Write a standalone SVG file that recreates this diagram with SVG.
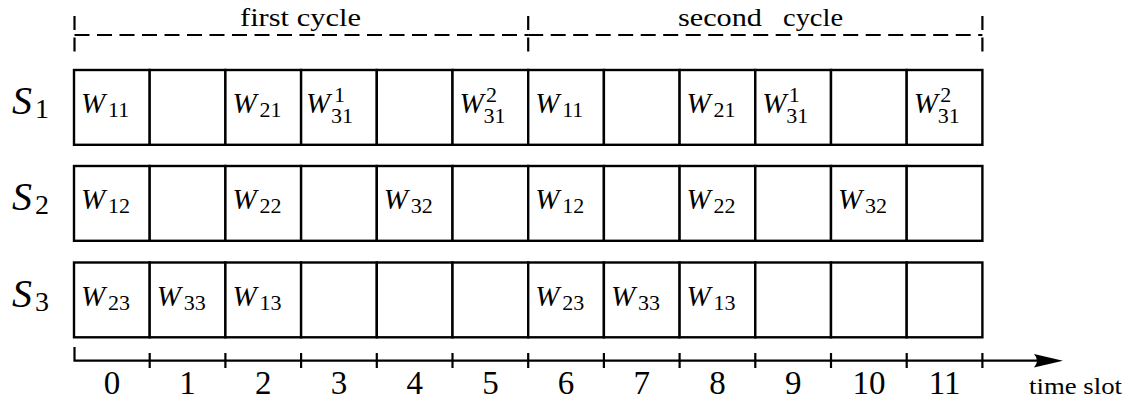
<svg xmlns="http://www.w3.org/2000/svg" width="1128" height="401" viewBox="0 0 1128 401" font-family="Liberation Serif, DejaVu Serif, serif">
<style>
.bg{fill:#ffffff}
.cell{fill:#ffffff;stroke:#000;stroke-width:2.4}
.dash{stroke:#000;stroke-width:2.2;fill:none;stroke-dasharray:15 7.5}
.vdash{stroke:#000;stroke-width:2.2;fill:none;stroke-dasharray:14 7.5}
.ax{stroke:#000;stroke-width:2.2;fill:none}
</style>
<rect class="bg" x="0" y="0" width="1128" height="401"/>

<g id="cycles" font-family="Liberation Serif, DejaVu Serif, serif" font-size="26" fill="#000">
  <line class="vdash" x1="74.5" y1="16" x2="74.5" y2="53"/>
  <line class="vdash" x1="528.2" y1="16" x2="528.2" y2="53"/>
  <line class="vdash" x1="982.4" y1="16" x2="982.4" y2="53"/>
  <line class="dash" x1="74.5" y1="35" x2="528.2" y2="35"/>
  <line class="dash" x1="528.2" y1="35" x2="982.4" y2="35"/>
  <text x="240" y="26" textLength="121" lengthAdjust="spacingAndGlyphs">first cycle</text>
  <text x="678" y="26" textLength="84" lengthAdjust="spacingAndGlyphs">second</text>
  <text x="783" y="26" textLength="60" lengthAdjust="spacingAndGlyphs">cycle</text>
</g>

<g id="row-labels" font-family="Liberation Serif, DejaVu Serif, serif" font-style="italic" font-size="40" fill="#000">
  <text x="12" y="114">S<tspan font-style="normal" font-size="28" x="35" y="118">1</tspan></text>
  <text x="12" y="210">S<tspan font-style="normal" font-size="28" x="35" y="214">2</tspan></text>
  <text x="12" y="306.5">S<tspan font-style="normal" font-size="28" x="35" y="310.5">3</tspan></text>
</g>

<g font-family="Liberation Serif, DejaVu Serif, serif" font-style="italic" font-size="29" fill="#000">
<g id="S1">
  <g id="S1-0"><rect class="cell" x="74" y="70" width="75.7" height="74.8"/><text x="81" y="113">W<tspan font-style="normal" font-size="22" x="108" y="117">11</tspan></text></g>
  <g id="S1-1"><rect class="cell" x="149.7" y="70" width="75.7" height="74.8"/></g>
  <g id="S1-2"><rect class="cell" x="225.4" y="70" width="75.7" height="74.8"/><text x="232.4" y="113">W<tspan font-style="normal" font-size="22" x="259.4" y="117">21</tspan></text></g>
  <g id="S1-3"><rect class="cell" x="301.1" y="70" width="75.7" height="74.8"/><text x="306.1" y="113">W<tspan font-style="normal" font-size="22" x="334.1" y="101.5">1</tspan></text><text x="331.1" y="123" font-style="normal" font-size="22">31</text></g>
  <g id="S1-4"><rect class="cell" x="376.8" y="70" width="75.7" height="74.8"/></g>
  <g id="S1-5"><rect class="cell" x="452.5" y="70" width="75.7" height="74.8"/><text x="459.5" y="113">W<tspan font-style="normal" font-size="22" x="486" y="101.5">2</tspan></text><text x="483.5" y="123" font-style="normal" font-size="22">31</text></g>
  <g id="S1-6"><rect class="cell" x="528.2" y="70" width="75.7" height="74.8"/><text x="535.2" y="113">W<tspan font-style="normal" font-size="22" x="562.2" y="117">11</tspan></text></g>
  <g id="S1-7"><rect class="cell" x="603.9" y="70" width="75.7" height="74.8"/></g>
  <g id="S1-8"><rect class="cell" x="679.6" y="70" width="75.7" height="74.8"/><text x="686.6" y="113">W<tspan font-style="normal" font-size="22" x="713.6" y="117">21</tspan></text></g>
  <g id="S1-9"><rect class="cell" x="755.3" y="70" width="75.7" height="74.8"/><text x="762.3" y="113">W<tspan font-style="normal" font-size="22" x="788.8" y="101.5">1</tspan></text><text x="786.3" y="123" font-style="normal" font-size="22">31</text></g>
  <g id="S1-10"><rect class="cell" x="831" y="70" width="75.7" height="74.8"/></g>
  <g id="S1-11"><rect class="cell" x="906.7" y="70" width="75.7" height="74.8"/><text x="913.7" y="113">W<tspan font-style="normal" font-size="22" x="940.2" y="101.5">2</tspan></text><text x="937.7" y="123" font-style="normal" font-size="22">31</text></g>
</g>

<g id="S2">
  <g id="S2-0"><rect class="cell" x="74" y="166" width="75.7" height="74.8"/><text x="81" y="209">W<tspan font-style="normal" font-size="22" x="108" y="213">12</tspan></text></g>
  <g id="S2-1"><rect class="cell" x="149.7" y="166" width="75.7" height="74.8"/></g>
  <g id="S2-2"><rect class="cell" x="225.4" y="166" width="75.7" height="74.8"/><text x="232.4" y="209">W<tspan font-style="normal" font-size="22" x="259.4" y="213">22</tspan></text></g>
  <g id="S2-3"><rect class="cell" x="301.1" y="166" width="75.7" height="74.8"/></g>
  <g id="S2-4"><rect class="cell" x="376.8" y="166" width="75.7" height="74.8"/><text x="383.8" y="209">W<tspan font-style="normal" font-size="22" x="410.8" y="213">32</tspan></text></g>
  <g id="S2-5"><rect class="cell" x="452.5" y="166" width="75.7" height="74.8"/></g>
  <g id="S2-6"><rect class="cell" x="528.2" y="166" width="75.7" height="74.8"/><text x="535.2" y="209">W<tspan font-style="normal" font-size="22" x="562.2" y="213">12</tspan></text></g>
  <g id="S2-7"><rect class="cell" x="603.9" y="166" width="75.7" height="74.8"/></g>
  <g id="S2-8"><rect class="cell" x="679.6" y="166" width="75.7" height="74.8"/><text x="686.6" y="209">W<tspan font-style="normal" font-size="22" x="713.6" y="213">22</tspan></text></g>
  <g id="S2-9"><rect class="cell" x="755.3" y="166" width="75.7" height="74.8"/></g>
  <g id="S2-10"><rect class="cell" x="831" y="166" width="75.7" height="74.8"/><text x="838" y="209">W<tspan font-style="normal" font-size="22" x="865" y="213">32</tspan></text></g>
  <g id="S2-11"><rect class="cell" x="906.7" y="166" width="75.7" height="74.8"/></g>
</g>

<g id="S3">
  <g id="S3-0"><rect class="cell" x="74" y="262.5" width="75.7" height="74.8"/><text x="81" y="305.5">W<tspan font-style="normal" font-size="22" x="108" y="309.5">23</tspan></text></g>
  <g id="S3-1"><rect class="cell" x="149.7" y="262.5" width="75.7" height="74.8"/><text x="156.7" y="305.5">W<tspan font-style="normal" font-size="22" x="183.7" y="309.5">33</tspan></text></g>
  <g id="S3-2"><rect class="cell" x="225.4" y="262.5" width="75.7" height="74.8"/><text x="232.4" y="305.5">W<tspan font-style="normal" font-size="22" x="259.4" y="309.5">13</tspan></text></g>
  <g id="S3-3"><rect class="cell" x="301.1" y="262.5" width="75.7" height="74.8"/></g>
  <g id="S3-4"><rect class="cell" x="376.8" y="262.5" width="75.7" height="74.8"/></g>
  <g id="S3-5"><rect class="cell" x="452.5" y="262.5" width="75.7" height="74.8"/></g>
  <g id="S3-6"><rect class="cell" x="528.2" y="262.5" width="75.7" height="74.8"/><text x="535.2" y="305.5">W<tspan font-style="normal" font-size="22" x="562.2" y="309.5">23</tspan></text></g>
  <g id="S3-7"><rect class="cell" x="603.9" y="262.5" width="75.7" height="74.8"/><text x="610.9" y="305.5">W<tspan font-style="normal" font-size="22" x="637.9" y="309.5">33</tspan></text></g>
  <g id="S3-8"><rect class="cell" x="679.6" y="262.5" width="75.7" height="74.8"/><text x="686.6" y="305.5">W<tspan font-style="normal" font-size="22" x="713.6" y="309.5">13</tspan></text></g>
  <g id="S3-9"><rect class="cell" x="755.3" y="262.5" width="75.7" height="74.8"/></g>
  <g id="S3-10"><rect class="cell" x="831" y="262.5" width="75.7" height="74.8"/></g>
  <g id="S3-11"><rect class="cell" x="906.7" y="262.5" width="75.7" height="74.8"/></g>
</g>
</g>

<g id="connectors">
  <path class="ax" d="M74.5 347 V360.7 H1042"/>
  <path fill="#000" d="M1063 360.7 L1034 354 Q1040 360.7 1034 367.4 Z"/>
  <path class="ax" d="M149.7 353 V368 M225.4 353 V368 M301.1 353 V368 M376.8 353 V368 M452.5 353 V368 M528.2 353 V368 M603.9 353 V368 M679.6 353 V368 M755.3 353 V368 M831 353 V368 M906.7 353 V368 M982.4 353 V368"/>
</g>

<g id="axis-labels" font-family="Liberation Serif, DejaVu Serif, serif" font-size="33" fill="#000" text-anchor="middle">
  <text x="111.9" y="394">0</text>
  <text x="187.6" y="394">1</text>
  <text x="263.3" y="394">2</text>
  <text x="339" y="394">3</text>
  <text x="414.7" y="394">4</text>
  <text x="490.4" y="394">5</text>
  <text x="566.1" y="394">6</text>
  <text x="641.8" y="394">7</text>
  <text x="717.5" y="394">8</text>
  <text x="793.2" y="394">9</text>
  <text x="868.9" y="394">10</text>
  <text x="944.6" y="394">11</text>
  <text x="1029" y="394" font-size="23" text-anchor="start" textLength="93" lengthAdjust="spacingAndGlyphs">time slot</text>
</g>
</svg>
